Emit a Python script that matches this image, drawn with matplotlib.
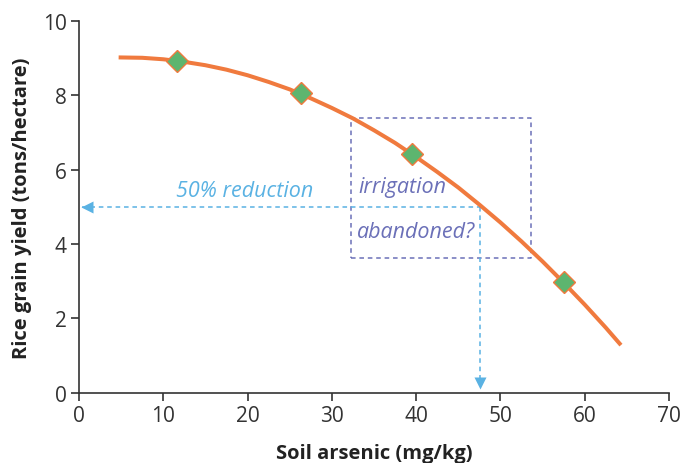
import matplotlib.pyplot as plt

# curve
curve_x = [4.7, 7.5, 10, 12.5, 15, 17.5, 20, 22.5, 25, 27.5, 30, 32.5, 35,
           37.5, 40, 42.5, 45, 47.5, 50, 52.5, 55, 57.5, 60, 62.5, 64.3]
curve_y = [9.02, 9.01, 8.97, 8.90, 8.81, 8.69, 8.54, 8.36, 8.16, 7.92, 7.66,
           7.38, 7.06, 6.72, 6.34, 5.94, 5.52, 5.06, 4.58, 4.07, 3.53, 2.96,
           2.37, 1.75, 1.28]

# measured points
pts_x = [11.6, 26.3, 39.5, 57.5]
pts_y = [8.93, 8.05, 6.42, 2.99]

# 50% reduction marker
half_x = 47.6
half_y = 5.0

# "irrigation abandoned?" box
box_x = [32.3, 53.65]
box_y = [3.62, 7.38]

xticks = [0, 10, 20, 30, 40, 50, 60, 70]
yticks = [0, 2, 4, 6, 8, 10]

orange = '#F07A3E'
green = '#5DB56F'
blue = '#5AB2E3'
purple = '#6B70B8'
dark = '#333333'

plt.rcParams['font.family'] = ['Open Sans', 'DejaVu Sans']

fig = plt.figure(figsize=(6.83, 4.64), dpi=100)
ax = fig.add_axes([0.1157, 0.1515, 0.9795 - 0.1157, 0.9526 - 0.1515])

# dashed box
ax.plot([box_x[0], box_x[1], box_x[1], box_x[0], box_x[0]],
        [box_y[0], box_y[0], box_y[1], box_y[1], box_y[0]],
        color=purple, lw=1.1, ls=(0, (3, 2.5)), zorder=2)

# 50% reduction lines
ax.plot([0.4, half_x], [half_y, half_y], color=blue, lw=1.1, ls=(0, (3, 2.5)), zorder=2)
ax.plot([half_x, half_x], [half_y, 0.3], color=blue, lw=1.1, ls=(0, (3, 2.5)), zorder=2)
ax.plot([0.9], [half_y], marker='<', color=blue, ms=8, mec='none', clip_on=False, zorder=4)
ax.plot([half_x], [0.25], marker='v', color=blue, ms=8, mec='none', clip_on=False, zorder=4)

ax.plot(curve_x, curve_y, color=orange, lw=2.9, solid_capstyle='butt', zorder=3)
ax.plot(pts_x, pts_y, ls='none', marker='D', ms=11, color=green, mec=orange, mew=1.0, zorder=5)

ax.text(19.6, 5.45, '50% reduction', color=blue, style='italic', fontsize=15.5,
        ha='center', va='center')
ax.text(33.2, 5.55, 'irrigation', color=purple, style='italic', fontsize=15.5,
        ha='left', va='center')
ax.text(33.0, 4.34, 'abandoned?', color=purple, style='italic', fontsize=15.5,
        ha='left', va='center')

ax.set_xlim(0, 70)
ax.set_ylim(0, 10)
ax.set_xticks(xticks)
ax.set_yticks(yticks)
ax.tick_params(direction='out', length=6, width=1.2, color=dark, labelsize=15,
               labelcolor=dark, pad=3)
for s in ['top', 'right']:
    ax.spines[s].set_visible(False)
for s in ['left', 'bottom']:
    ax.spines[s].set_color(dark)
    ax.spines[s].set_linewidth(1.2)

ax.set_xlabel('Soil arsenic (mg/kg)', fontsize=14.5, fontweight='bold', color='#222222', labelpad=12)
ax.set_ylabel('Rice grain yield (tons/hectare)', fontsize=14.5, fontweight='bold', color='#222222', labelpad=8)

fig.savefig('out.png', dpi=100)
